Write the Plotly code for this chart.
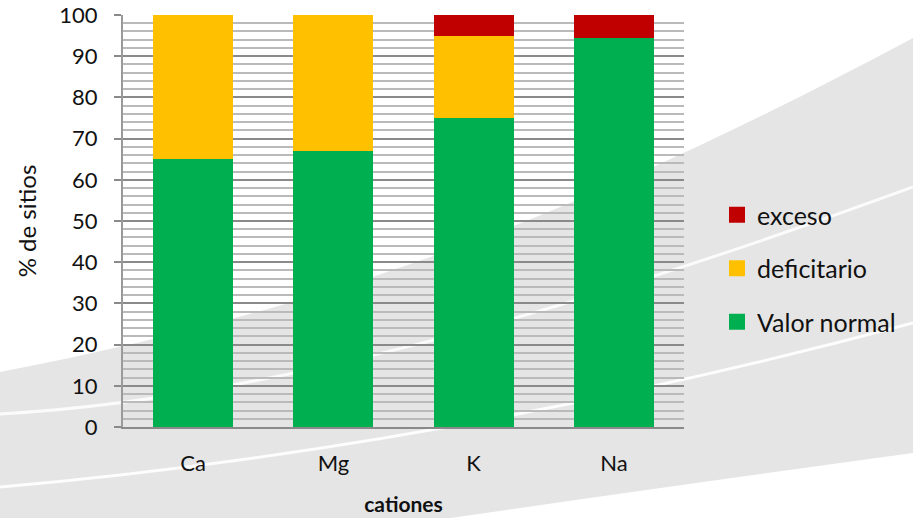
import plotly.graph_objects as go

# Share of sites per cation class (%)
cationes = ["Ca", "Mg", "K", "Na"]
valor_normal = [65.0, 67.0, 75.0, 94.3]
deficitario = [35.0, 33.0, 20.0, 0.0]
exceso = [0.0, 0.0, 5.0, 5.7]

y_ticks = [0, 10, 20, 30, 40, 50, 60, 70, 80, 90, 100]

W, H = 913, 518
ML, MR, MT, MB = 123, 229, 15, 91
PW, PH = W - ML - MR, H - MT - MB


def px(x, y):
    """Pixel position on the page -> paper coordinates of the plot area."""
    return (x - ML) / PW, (H - MB - y) / PH


def cubic(p0, c1, c2, p3):
    pts = [px(*p) for p in (p0, c1, c2, p3)]
    return "M{:.4f},{:.4f} C{:.4f},{:.4f} {:.4f},{:.4f} {:.4f},{:.4f}".format(
        *pts[0], *pts[1], *pts[2], *pts[3])


def pt(x, y):
    a, b = px(x, y)
    return "{:.4f},{:.4f}".format(a, b)


# grey swoosh behind the chart
swoosh = (
    cubic((0, 372), (350, 305), (600, 205), (913, 38))
    + " L" + pt(913, 453)
    + " Q" + pt(700, 482) + " " + pt(450, 518)
    + " L" + pt(0, 518) + " Z"
)
streak_a = cubic((0, 414), (250, 400), (550, 320), (913, 187))
streak_b = cubic((0, 487), (250, 465), (550, 420), (913, 323))

shapes = [
    dict(type="path", path=swoosh, xref="paper", yref="paper", layer="below",
         fillcolor="#e5e5e5", line=dict(width=0)),
    dict(type="path", path=streak_a, xref="paper", yref="paper", layer="below",
         line=dict(color="rgba(255,255,255,0.85)", width=3)),
    dict(type="path", path=streak_b, xref="paper", yref="paper", layer="below",
         line=dict(color="rgba(255,255,255,0.9)", width=3)),
]

fig = go.Figure()
series = [
    ("Valor normal", valor_normal, "#00b050", 3),
    ("deficitario", deficitario, "#ffc000", 2),
    ("exceso", exceso, "#c00000", 1),
]
for name, vals, color, rank in series:
    fig.add_trace(go.Bar(
        x=cationes, y=vals, name=name, legendgroup=name, showlegend=False,
        marker=dict(color=color, line=dict(width=0)),
    ))
# legend keys: square swatches in the series colours
for name, vals, color, rank in series:
    fig.add_trace(go.Scatter(
        x=[None], y=[None], mode="markers", name=name, legendgroup=name,
        legendrank=rank, hoverinfo="skip",
        marker=dict(symbol="square", size=16, color=color, line=dict(width=0)),
    ))

font = "Lato, 'Open Sans', sans-serif"

fig.update_layout(
    width=W, height=H,
    margin=dict(l=ML, r=MR, t=MT, b=MB, pad=0),
    barmode="stack",
    bargap=0.43,
    paper_bgcolor="white",
    plot_bgcolor="rgba(0,0,0,0)",
    font=dict(family=font, size=22, color="#111"),
    shapes=shapes,
    legend=dict(
        traceorder="grouped",
        tracegroupgap=18,
        x=(717 - ML) / PW, xanchor="left",
        y=px(0, 192)[1], yanchor="top",
        font=dict(size=25, family=font, color="#111"),
        bgcolor="rgba(0,0,0,0)",
        itemsizing="trace",
    ),
    xaxis=dict(
        automargin=False,
        showline=True, linecolor="#8a8a8a", linewidth=2,
        ticks="", ticklabelstandoff=16,
        tickfont=dict(size=22, family=font, color="#111"),
        title=dict(text="<b>cationes</b>", standoff=22,
                   font=dict(size=21, family=font, color="#111")),
        showgrid=False,
    ),
    yaxis=dict(
        automargin=False,
        range=[0, 100],
        tickvals=y_ticks,
        ticks="outside", ticklen=7, tickwidth=2, tickcolor="#8a8a8a",
        ticklabelstandoff=12,
        tickfont=dict(size=22, family=font, color="#111"),
        showline=True, linecolor="#9a9a9a", linewidth=2,
        showgrid=True, gridcolor="#8a8a8a", gridwidth=2,
        minor=dict(dtick=2, showgrid=True, gridcolor="#bababa", gridwidth=2,
                   ticks=""),
        zeroline=False,
        title=dict(text="% de sitios", standoff=16,
                   font=dict(size=24, family=font, color="#111")),
    ),
)

fig.write_html("out.html")
